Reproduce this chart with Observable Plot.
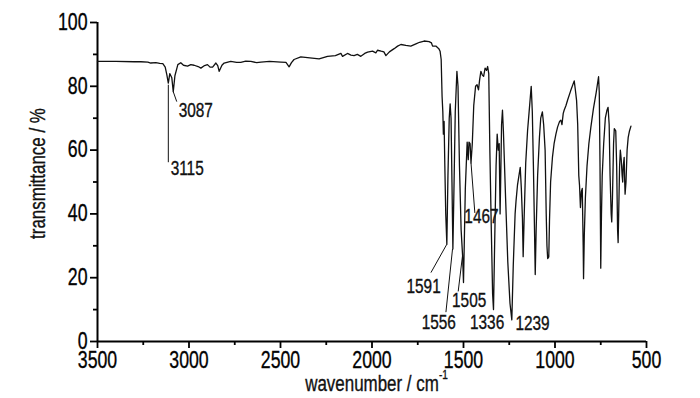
<!DOCTYPE html>
<html><head><meta charset="utf-8">
<script src="https://cdn.jsdelivr.net/npm/d3@7"></script>
<script src="https://cdn.jsdelivr.net/npm/@observablehq/plot@0.6"></script>
<style>
body{margin:0;background:#fff;}
</style></head><body><div id="chart"></div>
<script>
// IR spectrum: wavenumber (cm-1) and transmittance (%)
const wavenumber = [
  3500,3400,3300,3263,3225,3209,3181,3160,3143,3130,
  3121,3113,3105,3094,3086,3077,3061,3045,3030,3008,
  2990,2972,2950,2935,2915,2899,2885,2871,2853,2843,
  2835,2820,2808,2772,2740,2717,2690,2662,2630,2607,
  2560,2498,2470,2453,2440,2426,2389,2340,2289,2243,
  2200,2170,2161,2134,2115,2098,2080,2061,2040,2024,
  1997,1979,1970,1950,1935,1924,1905,1879,1860,1842,
  1815,1788,1760,1740,1715,1688,1675,1669,1651,1635,
  1628,1622,1617,1613,1610,1606,1602,1597,1591,1585,
  1578,1573,1568,1563,1558,1553,1545,1536,1530,1522,
  1513,1505,1500,1496,1490,1480,1474,1470,1464,1459,
  1452,1444,1434,1426,1418,1412,1405,1397,1390,1382,
  1374,1368,1362,1356,1348,1341,1336,1330,1322,1316,
  1310,1305,1300,1297,1292,1287,1282,1270,1258,1246,
  1236,1228,1218,1213,1205,1197,1190,1184,1178,1174,
  1169,1160,1150,1140,1130,1124,1118,1112,1108,1103,
  1095,1085,1078,1069,1062,1054,1048,1044,1040,1034,
  1030,1024,1014,1005,995,986,975,968,962,955,
  950,940,931,915,895,889,882,876,870,866,
  861,856,851,846,844,840,834,825,815,804,
  790,775,762,758,754,750,746,742,734,725,
  716,710,704,699,693,690,686,680,676,668,
  663,658,655,652,647,643,638,633,630,627,
  622,619,617,612,606,600,593,585
];
const transmittance = [
  87.8,87.8,87.7,87.7,87.6,87.3,87.4,87.2,87.1,86.0,
  83.6,81.0,84.0,82.7,78.3,83.3,86.8,87.4,86.6,86.3,
  86.8,86.6,86.2,85.7,86.5,86.8,86.0,86.0,87.3,86.5,
  84.7,86.6,87.3,87.8,87.5,87.5,87.9,87.8,87.4,87.6,
  87.8,87.6,87.5,86.1,87.4,88.4,89.2,88.9,88.6,89.4,
  89.6,90.3,89.4,90.3,89.8,89.6,90.0,89.4,90.3,90.7,
  91.0,90.5,91.3,91.0,90.8,89.6,90.8,91.8,92.6,93.1,
  92.8,92.6,93.3,93.8,94.2,94.0,93.6,92.6,92.6,91.8,
  91.0,88.4,76.8,72,65,69,55,40,30.5,52,
  70,74.5,70,50,29,45,72,84.7,80,55,
  35,27,18.5,30,48,62.5,57,62.5,62,56,
  62,74,80,80.5,78.9,82,84.7,83.5,83.1,85.7,
  85.0,86.2,84,60,35,15,10,30,55,65,
  60,62,40,50,68,72.5,66,45,25,12,
  6.8,24,40,44,49,52,54.6,48,38.7,26.6,
  38,56,66,73,80,72,55,35,21,35,
  52,64,70,72,68,60,40,30,26,26.5,
  38,50,57.7,62,65,67.2,69,69.4,68,71.5,
  72.5,74,75.7,78.5,81.7,79,75.5,68,52,49,
  42,47,48,30,19.7,33,45,55,62,67.2,
  73,78,83,78,55,23,40,52,62,70,
  72.5,73.4,68,52,40,37.5,45,62,66.7,66,
  55,35,31,40,55,60,57,52,50,55,
  57.7,50,46.2,50,60,64,66,67.5
];

// axis ticks
const xTicks = [3500,3000,2500,2000,1500,1000,500];
const xMinorTicks = [3250,2750,2250,1750,1250,750];
const yTicks = [0,20,40,60,80,100];
const yMinorTicks = [10,30,50,70,90];

// peak annotations
const peakLabels = ["3115","3087","1591","1556","1505","1467","1336","1239"];
const peakLabelX = [3010,2963,1718,1635,1469,1402,1371,1123];
const peakLabelY = [54.3,72.4,17.1,5.9,12.8,39,5.9,5.5];
// leader lines (from band to label)
const leaderX1 = [3113,3086,1591,1560,1505,1459];
const leaderY1 = [80.5,78.3,30.5,29,27.1,56];
const leaderX2 = [3113,3067,1678,1596,1529,1438];
const leaderY2 = [56.2,75.2,21.6,9.2,15.7,40.3];

const spectrum = wavenumber.map((w, i) => ({w, t: transmittance[i]}));
const leaders = leaderX1.map((x, i) => ({x1: x, y1: leaderY1[i], x2: leaderX2[i], y2: leaderY2[i]}));
const labels = peakLabels.map((s, i) => ({s, x: peakLabelX[i], y: peakLabelY[i]}));

const chart = Plot.plot({
  width: 700,
  height: 398,
  marginLeft: 97,
  marginRight: 54,
  marginTop: 22,
  marginBottom: 57,
  x: {domain: [3500, 500]},
  y: {domain: [0, 100]},
  style: {background: "white", color: "black", fontSize: "22px", fontFamily: "'Liberation Sans', Arial, sans-serif", overflow: "visible"},
  marks: [
    Plot.axisX({ticks: xTicks, tickSize: 7, tickPadding: 3, strokeWidth: 1.8, label: null, fontSize: 23, tickFormat: d => String(d)}),
    Plot.axisX({ticks: xMinorTicks, tickSize: 4, strokeWidth: 1.8, label: null, tickFormat: () => ""}),
    Plot.axisY({ticks: yTicks, tickSize: 7, tickPadding: 3, strokeWidth: 1.8, label: null, fontSize: 23, tickFormat: d => String(d)}),
    Plot.axisY({ticks: yMinorTicks, tickSize: 4, strokeWidth: 1.8, label: null, tickFormat: () => ""}),
    Plot.ruleX([3500], {strokeWidth: 2}),
    Plot.ruleY([0], {strokeWidth: 2}),
    Plot.line(spectrum, {x: "w", y: "t", stroke: "#111", strokeWidth: 1.3}),
    Plot.link(leaders, {x1: "x1", y1: "y1", x2: "x2", y2: "y2", stroke: "#111", strokeWidth: 1}),
    Plot.text(labels, {x: "x", y: "y", text: "s", fontSize: 20, textAnchor: "middle", lineAnchor: "middle", fill: "#111"}),
    Plot.text(["transmittance / %"], {frameAnchor: "left", rotate: -90, dx: -59.5, dy: -8.5, fontSize: 22, textAnchor: "middle", lineAnchor: "middle", fill: "#111"}),
    Plot.text(["wavenumber / cm"], {frameAnchor: "bottom", dx: 0, dy: 42.5, fontSize: 22, textAnchor: "middle", lineAnchor: "middle", fill: "#111"}),
    Plot.text(["-1"], {frameAnchor: "bottom", dx: 67, dy: 33, fontSize: 13, textAnchor: "start", lineAnchor: "middle", fill: "#111"})
  ]
});
document.getElementById("chart").appendChild(chart);

// condense all text horizontally around its anchor (reference uses a narrow sans face)
const squeeze = 0.77;
d3.select(chart).selectAll("text").each(function () {
  const x = +this.getAttribute("x") || 0;
  const y = +this.getAttribute("y") || 0;
  const t = this.getAttribute("transform") || "";
  this.setAttribute("transform", `${t} translate(${x},${y}) scale(${squeeze},1) translate(${-x},${-y})`);
  this.style.stroke = "#111";
  this.style.strokeWidth = "0.35px";
});
</script></body></html>
